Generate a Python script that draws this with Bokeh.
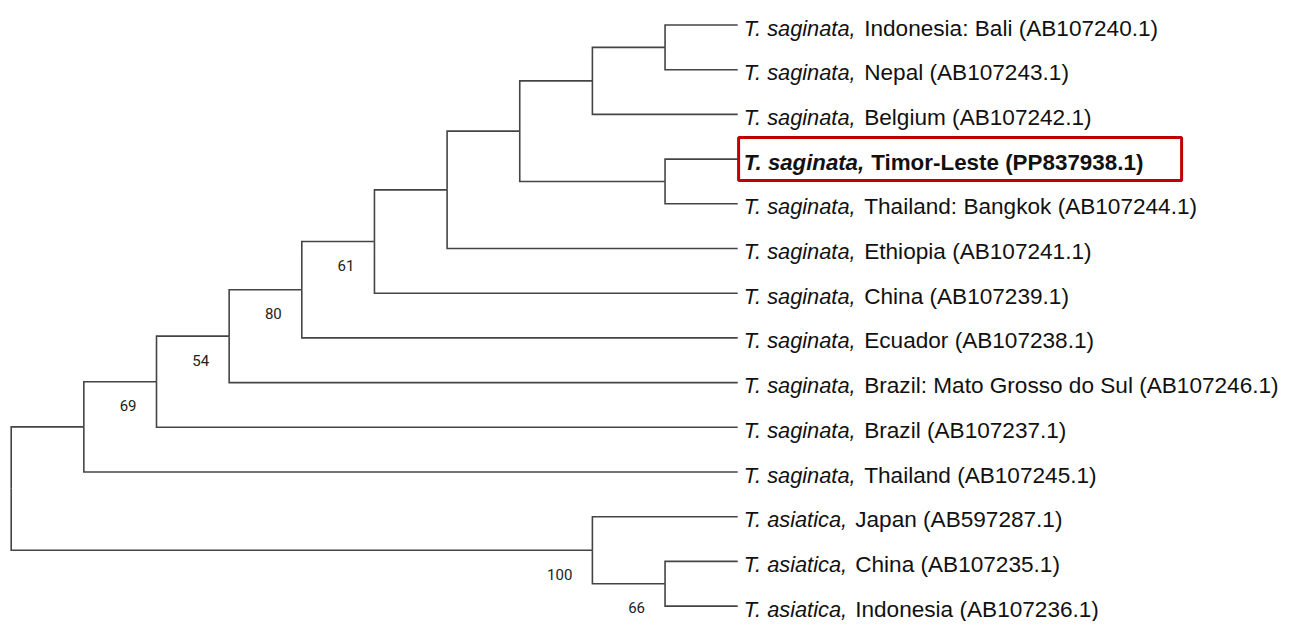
from bokeh.plotting import figure
from bokeh.models import Range1d, ColumnDataSource
from bokeh.core.properties import value
from bokeh.embed import file_html
from bokeh.resources import INLINE

# ---------------- data ----------------
leaf_species = ["T. saginata,"] * 11 + ["T. asiatica,"] * 3
leaf_places = ["Indonesia: Bali", "Nepal", "Belgium", "Timor-Leste", "Thailand: Bangkok",
               "Ethiopia", "China", "Ecuador", "Brazil: Mato Grosso do Sul", "Brazil",
               "Thailand", "Japan", "China", "Indonesia"]
leaf_accessions = ["AB107240.1", "AB107243.1", "AB107242.1", "PP837938.1", "AB107244.1",
                   "AB107241.1", "AB107239.1", "AB107238.1", "AB107246.1", "AB107237.1",
                   "AB107245.1", "AB597287.1", "AB107235.1", "AB107236.1"]
highlighted_leaf = 3
leaf_depth = 10

node_ids = ["root", "sag", "n69", "n54", "n80", "n61", "nE", "nX", "nBNB", "nBN", "nTB", "asi", "nCI"]
node_depth = [0, 1, 2, 3, 4, 5, 6, 7, 8, 9, 9, 8, 9]
node_children = [["sag", "asi"], ["n69", 10], ["n54", 9], ["n80", 8], ["n61", 7], ["nE", 6],
                 ["nX", 5], ["nBNB", "nTB"], ["nBN", 2], [0, 1], [3, 4], [11, "nCI"], [12, 13]]
node_support = [None, None, 69, 54, 80, 61, None, None, None, None, None, 100, 66]

# ---------------- layout ----------------
W, H = 1280, 621
PX_X = 72.65          # pixels per depth unit
PX_Y = 44.7           # pixels per leaf row
X_LEFT = 10.7         # pixel of the root
Y_TOP = 24.5          # pixel of the first leaf row
x0 = -X_LEFT / PX_X
y0 = -Y_TOP / PX_Y

info = {nid: (d, ch) for nid, d, ch in zip(node_ids, node_depth, node_children)}
pos = {}


def place(n):
    if isinstance(n, int):
        pos[n] = (leaf_depth, float(n))
        return pos[n]
    d, ch = info[n]
    ys = [place(c)[1] for c in ch]
    pos[n] = (d, (min(ys) + max(ys)) / 2.0)
    return pos[n]


place("root")

xs, ys = [], []
for nid in node_ids:
    nx, ny = pos[nid]
    for c in info[nid][1]:
        cx, cy = pos[c]
        xs.append([nx, nx, cx])
        ys.append([ny, cy, cy])

p = figure(width=W, height=H, output_backend="svg", toolbar_location=None,
           x_range=Range1d(x0, x0 + W / PX_X), y_range=Range1d(y0 + H / PX_Y, y0),
           min_border=0, outline_line_color=None, background_fill_color="white")
p.axis.visible = False
p.grid.visible = False

p.multi_line(xs, ys, line_color="#444444", line_width=1.6, line_join="miter")

# highlight box around the new sequence
box_cx = leaf_depth + 222.4 / PX_X
p.rect(x=[box_cx], y=[highlighted_leaf], width=443, height=43,
       width_units="screen", height_units="screen",
       fill_color=None, line_color="#C00000", line_width=3)

# leaf labels
LABEL_FONT = value("Liberation Sans")
IT_SIZE, RM_SIZE = "21.8px", "22.6px"
BASE = 3.0
prefix_px = {"T. saginata,": 126.5, "T. asiatica,": 117.5}
norm = [i for i in range(len(leaf_places)) if i != highlighted_leaf]
src_n = ColumnDataSource(dict(
    x=[leaf_depth] * len(norm), y=[float(i) for i in norm],
    sp=[leaf_species[i] for i in norm],
    rest=[f"{leaf_places[i]} ({leaf_accessions[i]})" for i in norm],
    off=[prefix_px[leaf_species[i]] for i in norm]))
p.text(x="x", y="y", text="sp", source=src_n, text_font=LABEL_FONT, text_font_size=IT_SIZE,
       text_font_style="italic", text_color="#111111", text_baseline="alphabetic",
       x_offset=6, y_offset=BASE)
p.text(x="x", y="y", text="rest", source=src_n, text_font=LABEL_FONT, text_font_size=RM_SIZE,
       text_color="#111111", text_baseline="alphabetic", x_offset="off", y_offset=BASE)

h = highlighted_leaf
p.text(x=[leaf_depth], y=[float(h)], text=[leaf_species[h]], text_font=LABEL_FONT,
       text_font_size="22.2px", text_font_style="bold italic", text_color="#111111",
       text_baseline="alphabetic", x_offset=6, y_offset=BASE)
p.text(x=[leaf_depth], y=[float(h)], text=[f"{leaf_places[h]} ({leaf_accessions[h]})"],
       text_font=LABEL_FONT, text_font_size="22.4px", text_font_style="bold",
       text_color="#111111", text_baseline="alphabetic", x_offset=133.5, y_offset=BASE)

# bootstrap support values
bx, by, bt = [], [], []
for nid, s in zip(node_ids, node_support):
    if s is not None:
        bx.append(pos[nid][0]); by.append(pos[nid][1]); bt.append(str(s))
p.text(x=bx, y=by, text=bt, text_font=value("Roboto"), text_font_size="15px",
       text_color="#222222", text_align="right", text_baseline="alphabetic",
       x_offset=-20, y_offset=24)

open("out.html", "w").write(file_html(p, INLINE))
